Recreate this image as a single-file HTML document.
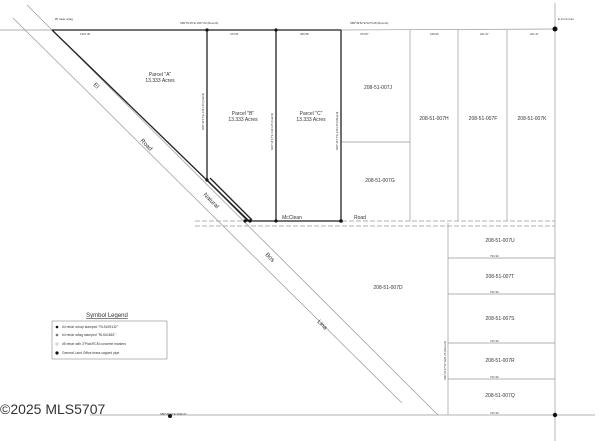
<!DOCTYPE html>
<html><head><meta charset="utf-8"><style>
html,body{margin:0;padding:0;background:#fff;width:600px;height:441px;overflow:hidden}
svg{display:block}
text{font-family:"Liberation Sans",sans-serif;fill:#333}
</style></head><body>
<svg width="600" height="441" viewBox="0 0 600 441" xmlns="http://www.w3.org/2000/svg">
<g stroke="#999" stroke-width="0.7" fill="none">
<line x1="0" y1="30" x2="52" y2="30"/>
<line x1="341" y1="30" x2="555" y2="29"/>
<line x1="555" y1="3" x2="555" y2="441"/>
<line x1="27" y1="5" x2="438" y2="415"/>
<line x1="13" y1="18" x2="402" y2="403"/>
<line x1="410" y1="30" x2="410" y2="221"/>
<line x1="458" y1="30" x2="458" y2="221"/>
<line x1="507" y1="30" x2="507" y2="221"/>
<line x1="341" y1="142" x2="410" y2="142"/>
<line x1="448" y1="223" x2="448" y2="415"/>
<line x1="448" y1="258" x2="555" y2="258"/>
<line x1="448" y1="294" x2="555" y2="294"/>
<line x1="448" y1="343" x2="555" y2="343"/>
<line x1="448" y1="379" x2="555" y2="379"/>
<line x1="90" y1="415" x2="595" y2="415"/>
<line x1="195" y1="221" x2="555" y2="221" stroke-dasharray="5,2"/>
<line x1="195" y1="226" x2="555" y2="226" stroke-dasharray="5,2"/>
</g>
<g stroke="#222" stroke-width="1.3" fill="none">
<line x1="52" y1="30" x2="341" y2="30"/>
<line x1="52" y1="30" x2="250" y2="222"/>
<line x1="207" y1="30" x2="207" y2="180"/>
<line x1="276" y1="30" x2="276" y2="221"/>
<line x1="341" y1="30" x2="341" y2="221"/>
<line x1="207" y1="180" x2="248" y2="221"/>
<line x1="210" y1="178" x2="252" y2="220"/>
<line x1="245" y1="221" x2="341" y2="221"/>
</g>
<g fill="#111">
<circle cx="555" cy="29" r="2.5"/><circle cx="207" cy="30" r="1.6"/><circle cx="276" cy="30" r="1.6"/>
<circle cx="207" cy="180" r="1.6"/><circle cx="276" cy="221" r="1.6"/><circle cx="341" cy="221" r="1.8"/>
<circle cx="245" cy="221" r="1.6"/><circle cx="250" cy="221" r="1.6"/><circle cx="555" cy="415" r="2.2"/><circle cx="170" cy="416" r="2"/>
</g>
<g font-size="5" text-anchor="middle">
<text x="160" y="76">Parcel "A"</text><text x="160" y="82">13.333 Acres</text>
<text x="243" y="115">Parcel "B"</text><text x="243" y="121">13.333 Acres</text>
<text x="311" y="115">Parcel "C"</text><text x="311" y="121">13.333 Acres</text>
<text x="378" y="89">208-51-007J</text><text x="380" y="182">208-51-007G</text>
<text x="434" y="120">208-51-007H</text><text x="483" y="120">208-51-007F</text><text x="532" y="120">208-51-007K</text>
<text x="388" y="289">208-51-007D</text>
<text x="500" y="242">208-51-007U</text><text x="500" y="278">208-51-007T</text>
<text x="500" y="320">208-51-007S</text><text x="500" y="362">208-51-007R</text><text x="500" y="397">208-51-007Q</text>
<text x="292" y="219">McClean</text><text x="360" y="219">Road</text>
<text x="107" y="317" font-size="6" text-decoration="underline">Symbol Legend</text>
</g>
<g font-size="6" fill="#333">
<text transform="translate(93,85) rotate(45)">El</text>
<text transform="translate(140,141) rotate(45)">Road</text>
<text transform="translate(203,195) rotate(45)">Natural</text>
<text transform="translate(265,255) rotate(45)">Bos</text>
<text transform="translate(317,322) rotate(45)">Lina</text>
</g>
<g font-size="2.8" fill="#555">
<text x="180" y="24">S89°51'25"E 1307.62 (Record)</text>
<text x="350" y="24">S89°49'52"E 5273.08 (Record)</text>
<text x="80" y="35">1307.36</text><text x="230" y="35">373.51</text><text x="300" y="35">435.58</text>
<text x="360" y="35">373.87</text><text x="430" y="35">218.90</text><text x="480" y="35">221.37</text><text x="530" y="35">221.37</text>
<text x="160" y="415">S89°46'19"E 2639.27</text>
<text transform="translate(204,130) rotate(-90)">N00°16'17"E 1321.25 (Calc'd)</text>
<text transform="translate(273,150) rotate(-90)">N00°16'17"E 1321.25 (Calc'd)</text>
<text transform="translate(338,150) rotate(-90)">N00°16'17"E 1321.25 (Meas'd)</text>
<text transform="translate(446,380) rotate(-90)">S00°16'17"W 1321.25 (Record)</text>
<text x="490" y="257">731.90</text><text x="490" y="293">731.90</text><text x="490" y="342">731.90</text><text x="490" y="378">731.90</text><text x="490" y="414">731.90</text>
<text x="558" y="20">E 1/4 Corner</text><text x="55" y="20">#5 rebar w/tag</text>
</g>
<rect x="52" y="321" width="115" height="38" fill="none" stroke="#888" stroke-width="0.6"/>
<g font-size="3.3" fill="#333">
<circle cx="57" cy="327" r="1.3" fill="#111"/><text x="62" y="328">#4 rebar w/cap stamped "RLS#29132"</text>
<circle cx="57" cy="335" r="1.3" fill="#777"/><text x="62" y="336">#4 rebar w/tag stamped "RLS#1863"</text>
<circle cx="57" cy="344" r="1.2" fill="none" stroke="#777" stroke-width="0.4"/><text x="62" y="345">#5 rebar with 3"Pick/RCM concrete markers</text>
<circle cx="57" cy="353" r="1.6" fill="#111"/><text x="62" y="354">General Land Office brass capped pipe</text>
</g>
<text x="0" y="414" font-size="14" fill="#777">©2025 MLS5707</text>
</svg>
</body></html>
